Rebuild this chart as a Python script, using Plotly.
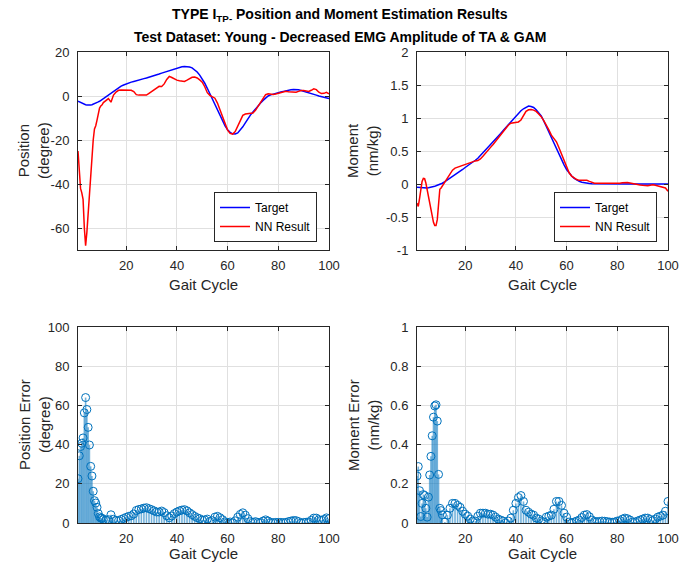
import plotly.graph_objects as go

# ---------------- data ----------------
x_pts = [1, 1.5, 2, 2.5, 3, 3.5, 4, 4.5, 5, 5.5, 6, 6.5, 7, 7.5, 8, 8.5, 9, 9.5, 10, 10.5] + list(range(11, 101))

pos_target = [-2.4, -2.7, -3.0, -3.3, -3.6, -3.8, -4.0, -4.1, -4.2, -4.2,
              -4.1, -4.0, -3.8, -3.6, -3.3, -3.0, -2.7, -2.4, -2.0, -1.6,
              -1.2, -0.4, 0.5, 1.4, 2.3, 3.1, 3.8, 4.5, 5.0, 5.5,
              5.9, 6.3, 6.6, 7.0, 7.3, 7.6, 7.9, 8.2, 8.5, 8.8,
              9.2, 9.6, 10.0, 10.4, 10.8, 11.2, 11.6, 12.0, 12.4, 12.8,
              13.1, 13.3, 13.4, 13.4, 13.2, 12.8, 12.0, 10.9, 9.5, 7.8,
              5.8, 3.5, 1.1, -1.4, -4.0, -6.6, -9.2, -11.5, -13.6, -15.3,
              -16.5, -17.2, -17.3, -16.8, -15.6, -14.0, -12.2, -10.3, -8.7, -7.3,
              -5.8, -4.5, -3.2, -2.0, -1.0, 0.0, 0.5, 0.9, 1.2, 1.5,
              1.8, 2.1, 2.4, 2.6, 2.8, 2.9, 2.9, 2.8, 2.5, 2.2,
              1.9, 1.6, 1.2, 0.8, 0.4, 0.0, -0.3, -0.6, -0.9, -1.2]

pos_nn = [-25, -37, -42, -44, -47, -60, -68, -62, -53, -44,
          -33, -28, -20, -15, -13.5, -11, -7.5, -5.5, -4.5, -4.0,
          -3.0, -2.0, -1.2, -2.8, 0.4, 1.8, 2.6, 2.7, 2.7, 2.6,
          2.5, 2.6, 2.0, 0.6, 0.4, 0.4, 0.3, 0.4, 1.2, 2.0,
          3.0, 4.0, 4.4, 4.3, 5.5, 7.5, 8.9, 8.4, 7.6, 7.2,
          6.9, 6.7, 6.6, 7.2, 8.0, 8.5, 8.6, 8.2, 7.3, 6.3,
          4.2, 1.5, 0.3, -0.2, -1.0, -3.2, -6.5, -9.8, -13.0, -15.5,
          -17.0, -17.3, -16.2, -13.8, -11.2, -8.8, -8.2, -8.1, -8.0, -7.7,
          -6.5, -4.8, -3.0, -1.0, 0.6, 1.0, 0.8, 0.7, 0.9, 1.2,
          1.5, 1.9, 2.1, 1.9, 1.8, 1.6, 1.7, 2.1, 2.5, 2.5,
          2.3, 2.1, 2.6, 3.3, 2.9, 1.7, 1.1, 1.2, 1.7, 1.0]

mom_target = [-0.05, -0.052, -0.055, -0.057, -0.06, -0.06, -0.06, -0.06, -0.06, -0.058,
              -0.055, -0.05, -0.045, -0.04, -0.033, -0.027, -0.02, -0.012, -0.005, 0.003,
              0.012, 0.035, 0.06, 0.085, 0.11, 0.14, 0.165, 0.19, 0.22, 0.25,
              0.275, 0.30, 0.33, 0.36, 0.39, 0.43, 0.47, 0.51, 0.555, 0.60,
              0.64, 0.68, 0.72, 0.765, 0.81, 0.855, 0.90, 0.945, 0.99, 1.03,
              1.07, 1.11, 1.14, 1.165, 1.18, 1.175, 1.16, 1.125, 1.08, 1.03,
              0.955, 0.87, 0.785, 0.70, 0.62, 0.53, 0.44, 0.36, 0.29, 0.22,
              0.165, 0.12, 0.085, 0.058, 0.04, 0.027, 0.018, 0.012, 0.008, 0.005,
              0.004, 0.003, 0.002, 0.002, 0.001, 0.001, 0.001, 0.001, 0.001, 0.0,
              0.0, 0.0, 0.0, 0.0, 0.0, 0.0, 0.0, 0.0, 0.0, 0.0,
              0.0, 0.0, 0.0, 0.0, 0.0, 0.0, 0.0, 0.0, 0.0, 0.0]

mom_nn = [-0.29, -0.34, -0.22, -0.09, 0.04, 0.085, 0.08, 0.015, -0.09, -0.19,
          -0.30, -0.39, -0.49, -0.58, -0.63, -0.63, -0.54, -0.26, -0.08, -0.06,
          -0.03, 0.03, 0.10, 0.16, 0.21, 0.24, 0.255, 0.27, 0.28, 0.295,
          0.31, 0.32, 0.34, 0.35, 0.355, 0.38, 0.42, 0.46, 0.51, 0.555,
          0.60, 0.65, 0.70, 0.75, 0.80, 0.855, 0.89, 0.92, 0.925, 0.93,
          0.94, 0.97, 1.03, 1.10, 1.125, 1.13, 1.12, 1.10, 1.06, 1.02,
          0.96, 0.90, 0.82, 0.74, 0.69, 0.64, 0.55, 0.45, 0.34, 0.25,
          0.17, 0.12, 0.09, 0.068, 0.055, 0.055, 0.058, 0.055, 0.04, 0.02,
          0.012, 0.01, 0.01, 0.012, 0.01, 0.008, 0.006, 0.005, 0.006, 0.01,
          0.012, 0.02, 0.025, 0.022, 0.015, 0.005, -0.005, -0.01, -0.015, -0.02,
          -0.025, -0.025, -0.018, -0.012, -0.02, -0.03, -0.035, -0.04, -0.06, -0.11]

pos_err = [abs(a - b) for a, b in zip(pos_target, pos_nn)]
mom_err = [abs(a - b) for a, b in zip(mom_target, mom_nn)]

x_ticks = [20, 40, 60, 80, 100]
pos_ticks = [-60, -40, -20, 0, 20]
pos_ticktext = ["-60", "-40", "-20", "0", "20"]
mom_ticks = [-1, -0.5, 0, 0.5, 1, 1.5, 2]
mom_ticktext = ["-1", "-0.5", "0", "0.5", "1", "1.5", "2"]
perr_ticks = [0, 20, 40, 60, 80, 100]
merr_ticks = [0, 0.2, 0.4, 0.6, 0.8, 1]
merr_ticktext = ["0", "0.2", "0.4", "0.6", "0.8", "1"]

title1 = "TYPE I<sub>TP-</sub> Position and Moment Estimation Results"
title2 = "Test Dataset: Young - Decreased EMG Amplitude of TA & GAM"

# ---------------- figure ----------------
W, H = 679, 569
FONT = "Liberation Sans, Arial, Helvetica, sans-serif"
AX = "#262626"
STEM = "#0072BD"

def px_x(a, b):
    return [a / W, b / W]

def px_y(top, bottom):
    return [1 - bottom / H, 1 - top / H]

fig = go.Figure()

fig.add_trace(go.Scatter(x=x_pts, y=pos_target, mode="lines", name="Target",
                         line=dict(color="#0000FF", width=1.5), xaxis="x", yaxis="y", legend="legend"))
fig.add_trace(go.Scatter(x=x_pts, y=pos_nn, mode="lines", name="NN Result",
                         line=dict(color="#FF0000", width=1.5), xaxis="x", yaxis="y", legend="legend"))
fig.add_trace(go.Scatter(x=x_pts, y=mom_target, mode="lines", name="Target",
                         line=dict(color="#0000FF", width=1.5), xaxis="x2", yaxis="y2", legend="legend2"))
fig.add_trace(go.Scatter(x=x_pts, y=mom_nn, mode="lines", name="NN Result",
                         line=dict(color="#FF0000", width=1.5), xaxis="x2", yaxis="y2", legend="legend2"))

def stems(xs, ys):
    sx, sy = [], []
    for a, b in zip(xs, ys):
        sx += [a, a, None]
        sy += [0, b, None]
    return sx, sy

for err, xa, ya in [(pos_err, "x3", "y3"), (mom_err, "x4", "y4")]:
    sx, sy = stems(x_pts, err)
    fig.add_trace(go.Scatter(x=sx, y=sy, mode="lines", showlegend=False,
                             line=dict(color="rgba(0,114,189,0.55)", width=1.6), xaxis=xa, yaxis=ya))
    fig.add_trace(go.Scatter(x=x_pts, y=err, mode="markers", showlegend=False,
                             marker=dict(symbol="circle-open", size=8, color=STEM, line=dict(width=1, color=STEM)),
                             xaxis=xa, yaxis=ya))

common = dict(showline=True, mirror="ticks", linecolor=AX, linewidth=1, ticks="inside", ticklen=4,
              tickcolor=AX, showgrid=True, gridcolor="#e0e0e0", gridwidth=1, zeroline=False,
              automargin=False, tickfont=dict(family=FONT, size=13, color=AX))
xcommon = dict(ticklabelstandoff=3, **common)
ycommon = dict(ticklabelstandoff=5, **common)

left_x = px_x(78, 329)
right_x = px_x(417, 668)
top_y = px_y(52, 250)
bot_y = px_y(327, 523)

legend_style = dict(xanchor="right", yanchor="middle", bordercolor=AX, borderwidth=1, bgcolor="white",
                    font=dict(family=FONT, size=12, color="black"), tracegroupgap=0)

layout = dict(
    width=W, height=H, autosize=False, margin=dict(l=0, r=0, t=0, b=0, pad=0),
    paper_bgcolor="white", plot_bgcolor="white",
    font=dict(family=FONT, color=AX),
    xaxis=dict(domain=left_x, anchor="y", range=[1, 100], tickvals=x_ticks, **xcommon),
    yaxis=dict(domain=top_y, anchor="x", range=[-70, 20], tickvals=pos_ticks, ticktext=pos_ticktext, **ycommon),
    xaxis2=dict(domain=right_x, anchor="y2", range=[1, 100], tickvals=x_ticks, **xcommon),
    yaxis2=dict(domain=top_y, anchor="x2", range=[-1, 2], tickvals=mom_ticks, ticktext=mom_ticktext, **ycommon),
    xaxis3=dict(domain=left_x, anchor="y3", range=[1, 100], tickvals=x_ticks, **xcommon),
    yaxis3=dict(domain=bot_y, anchor="x3", range=[0, 100], tickvals=perr_ticks, **ycommon),
    xaxis4=dict(domain=right_x, anchor="y4", range=[1, 100], tickvals=x_ticks, **xcommon),
    yaxis4=dict(domain=bot_y, anchor="x4", range=[0, 1], tickvals=merr_ticks, ticktext=merr_ticktext, **ycommon),
    legend=dict(x=317 / W, y=1 - 217 / H, **legend_style),
    legend2=dict(x=657 / W, y=1 - 217 / H, **legend_style),
)
fig.update_layout(**layout)

ann = []
ann.append(dict(text="<b>" + title1 + "</b>", x=340 / W, y=1 - 15 / H, xref="paper", yref="paper",
                showarrow=False, font=dict(family=FONT, size=14, color="black"), xanchor="center", yanchor="middle"))
ann.append(dict(text="<b>" + title2 + "</b>", x=340 / W, y=1 - 37 / H, xref="paper", yref="paper",
                showarrow=False, font=dict(family=FONT, size=14, color="black"), xanchor="center", yanchor="middle"))
for xc, yc in [(203.5, 284), (542.5, 284), (203.5, 553), (542.5, 553)]:
    ann.append(dict(text="Gait Cycle", x=xc / W, y=1 - yc / H, xref="paper", yref="paper", showarrow=False,
                    font=dict(family=FONT, size=15, color=AX), xanchor="center", yanchor="middle"))
for txt, xc, yc in [("Position<br>(degree)", 34, 151), ("Moment<br>(nm/kg)", 363, 151),
                    ("Position Error<br>(degree)", 34, 425), ("Moment Error<br>(nm/kg)", 363, 425)]:
    ann.append(dict(text=txt, x=xc / W, y=1 - yc / H, xref="paper", yref="paper", showarrow=False,
                    textangle=-90, font=dict(family=FONT, size=15, color=AX), xanchor="center", yanchor="middle"))
fig.update_layout(annotations=ann)

fig.write_html("out.html")
